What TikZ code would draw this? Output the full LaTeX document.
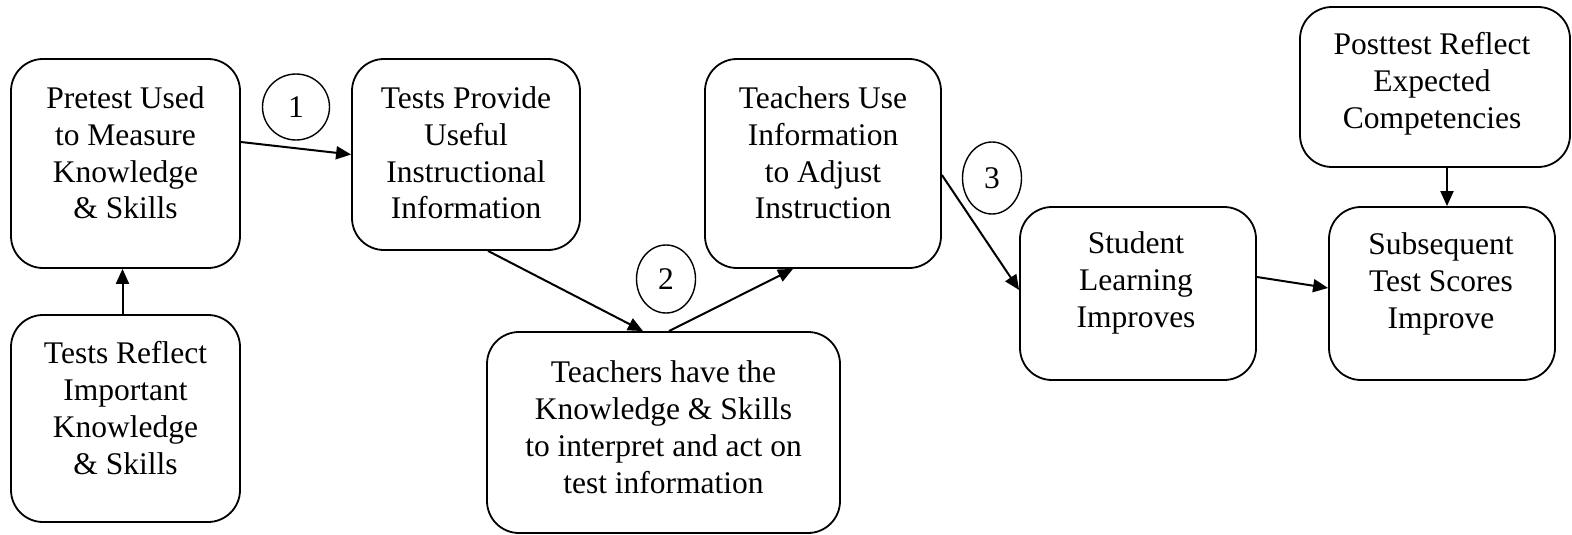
\documentclass[tikz,border=0pt]{standalone}
\usepackage{fontspec}
\setmainfont{Liberation Serif}
\usetikzlibrary{arrows.meta,shapes.geometric,calc}
\setlength{\tabcolsep}{0pt}
\tikzset{
  box/.style={draw, line width=1.8pt, rounded corners=32pt, inner sep=0pt},
  txt/.style={inner sep=0pt, anchor=base, font=\fontsize{31.5}{37}\selectfont},
  num/.style={draw, ellipse, line width=1.4pt, inner sep=0pt, font=\fontsize{31.5}{37}\selectfont},
  arr/.style={line width=2pt, -{Triangle[length=15pt,width=13pt]}}
}
\newcommand{\ml}[1]{\begin{tabular}[t]{@{}c@{}}#1\end{tabular}}
\begin{document}
\begin{tikzpicture}[x=1pt,y=-1pt]
\useasboundingbox (0,0) rectangle (1572,535);
% boxes
\node[box, minimum width=229pt, minimum height=209pt] (A) at (125.5,163.5) {};
\node[box, minimum width=229pt, minimum height=207pt] (B) at (125.5,418.5) {};
\node[box, minimum width=228pt, minimum height=191pt] (C) at (466,154.5) {};
\node[box, minimum width=236pt, minimum height=209pt] (D) at (823,163.5) {};
\node[box, minimum width=353pt, minimum height=201pt] (E) at (663.5,432.5) {};
\node[box, minimum width=236pt, minimum height=173pt] (F) at (1138,293.5) {};
\node[box, minimum width=226pt, minimum height=173pt] (G) at (1442,293.5) {};
\node[box, minimum width=270pt, minimum height=160pt] (H) at (1435,87) {};
% texts
\node[txt] (At) at (125.5,108) {\ml{Pretest Used\\to Measure\\Knowledge\\\& Skills}};
\node[txt] (Bt) at (125.5,363) {\ml{Tests Reflect\\Important\\Knowledge\\\& Skills}};
\node[txt] (Ct) at (466,108) {\ml{Tests Provide\\Useful\\Instructional\\Information}};
\node[txt] (Dt) at (823,108) {\ml{Teachers Use\\Information\\to Adjust\\Instruction}};
\node[txt] (Et) at (663.5,382) {\ml{Teachers have the\\Knowledge \& Skills\\to interpret and act on\\test information}};
\node[txt] (Ft) at (1136,253) {\ml{Student\\Learning\\Improves}};
\node[txt] (Gt) at (1441,254) {\ml{Subsequent\\Test Scores\\Improve}};
\node[txt] (Ht) at (1432,55) {\ml{Posttest Reflect\\Expected\\Competencies}};
% numbers
\node[num, minimum width=67pt, minimum height=66pt] (c1) at (296,107) {1};
\node[num, minimum width=59pt, minimum height=68pt] (c2) at (666,279) {2};
\node[num, minimum width=59pt, minimum height=72pt] (c3) at (992,178) {3};
% arrows
\draw[arr] ([yshift=21.5pt]A.east) -- (C.west);
\draw[arr] ([xshift=-3pt]B.north) -- ([xshift=-3pt]A.south);
\draw[arr] ([xshift=22pt]C.south) -- ([xshift=-20.5pt]E.north);
\draw[arr] ([xshift=5.5pt]E.north) -- ([xshift=-30pt]D.south);
\draw[arr] ([yshift=-11.5pt]D.east) -- ([yshift=3.5pt]F.west);
\draw[arr] ([yshift=16.5pt]F.east) -- ([yshift=5.5pt]G.west);
\draw[arr] ([xshift=12pt]H.south) -- ([xshift=5pt]G.north);
\end{tikzpicture}
\end{document}
